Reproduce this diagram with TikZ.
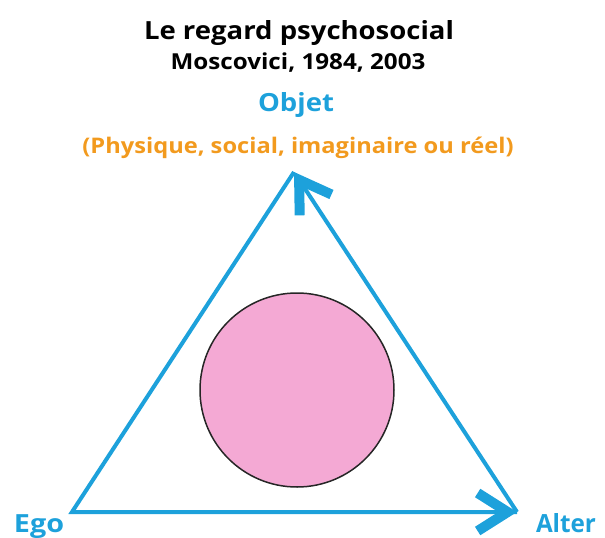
\documentclass[tikz,border=0pt]{standalone}
\usepackage{graphicx}
\usepackage{fontspec}
\setmainfont{Open Sans}
\usetikzlibrary{arrows.meta}
\definecolor{ablue}{HTML}{1DA1DB}
\definecolor{aorange}{HTML}{F29A1E}
\definecolor{apink}{HTML}{F4A9D4}
\newcommand{\wide}[2][1.1]{\scalebox{#1}[1]{#2}}
\tikzset{
  edge/.style={draw=ablue, line width=4pt, line join=miter},
  chev/.style={-{Straight Barb[length=30pt,width=38pt,line width=10pt]}},
  lbl/.style={anchor=base, inner sep=0pt, font=\bfseries},
}
\begin{document}
\begin{tikzpicture}[x=1pt,y=-1pt]
\useasboundingbox (0,0) rectangle (605,538);
\node[lbl, font=\bfseries\fontsize{25}{25}\selectfont] (title) at (299,39) {\wide{Le regard psychosocial}};
\node[lbl, font=\bfseries\fontsize{22}{22}\selectfont] (sub) at (298,69) {\wide{Moscovici, 1984, 2003}};
\node[lbl, text=ablue, font=\bfseries\fontsize{25}{25}\selectfont] (objet) at (296,111) {\wide{Objet}};
\node[lbl, text=aorange, font=\bfseries\fontsize{21.5}{21.5}\selectfont] (phys) at (298,153) {\wide{(Physique, social, imaginaire ou réel)}};
\node[lbl, text=ablue, font=\bfseries\fontsize{25}{25}\selectfont] (ego) at (39,532) {\wide[1.15]{Ego}};
\node[lbl, text=ablue, font=\bfseries\fontsize{25}{25}\selectfont] (alter) at (566,532) {\wide[0.97]{Alter}};
\coordinate (E) at (72,512);
\coordinate (T) at (294,172);
\coordinate (A) at (517,512);
\node[circle, draw=black!85, line width=1.5pt, fill=apink, minimum size=194pt, inner sep=0pt] (c) at (297,390) {};
\draw[edge] (T) -- (E) -- (A);
\draw[edge, chev] (E) -- (A);
\draw[edge, chev] (A) -- (T);
\end{tikzpicture}
\end{document}
